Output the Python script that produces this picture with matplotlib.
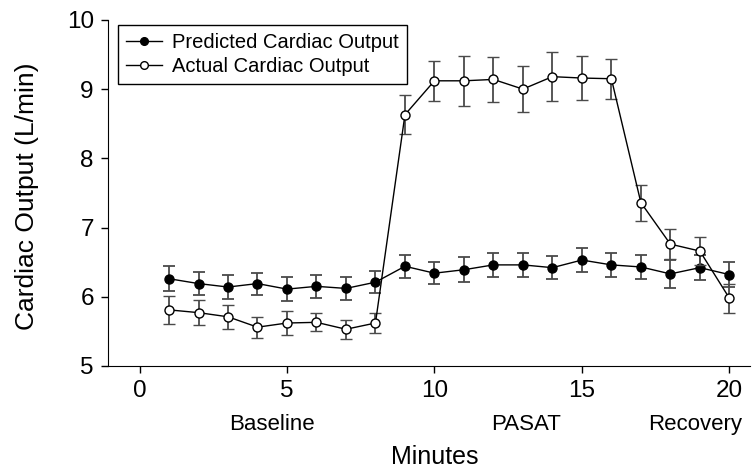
import matplotlib.pyplot as plt
import numpy as np

plt.rcParams['font.family'] = ['Liberation Sans', 'DejaVu Sans']

# minutes 1..20
minutes = np.arange(1, 21)

predicted = [6.26, 6.19, 6.14, 6.19, 6.11, 6.15, 6.12, 6.21, 6.44, 6.34,
             6.39, 6.46, 6.46, 6.42, 6.53, 6.46, 6.43, 6.33, 6.42, 6.32]
predicted_err = [0.18, 0.17, 0.18, 0.16, 0.17, 0.17, 0.17, 0.16, 0.17, 0.16,
                 0.18, 0.17, 0.17, 0.17, 0.17, 0.17, 0.18, 0.20, 0.18, 0.18]

actual = [5.81, 5.77, 5.71, 5.56, 5.62, 5.63, 5.53, 5.62, 8.63, 9.12,
          9.12, 9.14, 9.00, 9.18, 9.16, 9.15, 7.36, 6.76, 6.66, 5.98]
actual_err = [0.20, 0.18, 0.17, 0.15, 0.18, 0.13, 0.14, 0.15, 0.28, 0.29,
              0.36, 0.33, 0.33, 0.35, 0.32, 0.29, 0.26, 0.22, 0.20, 0.21]

phase_names = ['Baseline', 'PASAT', 'Recovery']
phase_x = [4.5, 13.1, 18.85]

fig = plt.figure(figsize=(7.53, 4.74), dpi=100)
ax = fig.add_axes([0.143, 0.228, 0.853, 0.730])

# predicted: filled circles
pred = ax.errorbar(minutes, predicted, yerr=predicted_err, fmt='-o', color='black',
                   ecolor='#4a4a4a', elinewidth=1.3, capsize=4, capthick=1.3,
                   lw=1, ms=6.5, mfc='black', mec='black', zorder=2)
# actual: open circles
act = ax.errorbar(minutes, actual, yerr=actual_err, fmt='-o', color='black',
                  ecolor='#4a4a4a', elinewidth=1.3, capsize=4, capthick=1.3,
                  lw=1, ms=6.5, mfc='white', mec='black', mew=1, zorder=3)

ax.set_xlim(-1.08, 20.7)
ax.set_ylim(5, 10)
ax.set_xticks([0, 5, 10, 15, 20])
ax.set_yticks([5, 6, 7, 8, 9, 10])
ax.tick_params(direction='out', length=5, width=1, labelsize=17.5, pad=5)

ax.spines['top'].set_visible(False)
ax.spines['right'].set_visible(False)

ax.set_ylabel('Cardiac Output (L/min)', fontsize=19, va='center')
ax.yaxis.set_label_coords(-0.125, 0.491)
ax.set_xlabel('Minutes', fontsize=18, va='center')
ax.xaxis.set_label_coords(0.509, -0.263)

for name, xp in zip(phase_names, phase_x):
    ax.text(xp, -0.168, name, transform=ax.get_xaxis_transform(),
            ha='center', va='center', fontsize=16)

leg = ax.legend([pred[0], act[0]],
                ['Predicted Cardiac Output', 'Actual Cardiac Output'],
                loc='upper left', bbox_to_anchor=(0.0156, 0.986),
                borderaxespad=0, fontsize=14.5, fancybox=False,
                edgecolor='black', framealpha=1, handlelength=1.8,
                handletextpad=0.5, borderpad=0.4, labelspacing=0.25,
                markerscale=0.85)
leg.get_frame().set_linewidth(1)

fig.savefig('out.png', dpi=100)
